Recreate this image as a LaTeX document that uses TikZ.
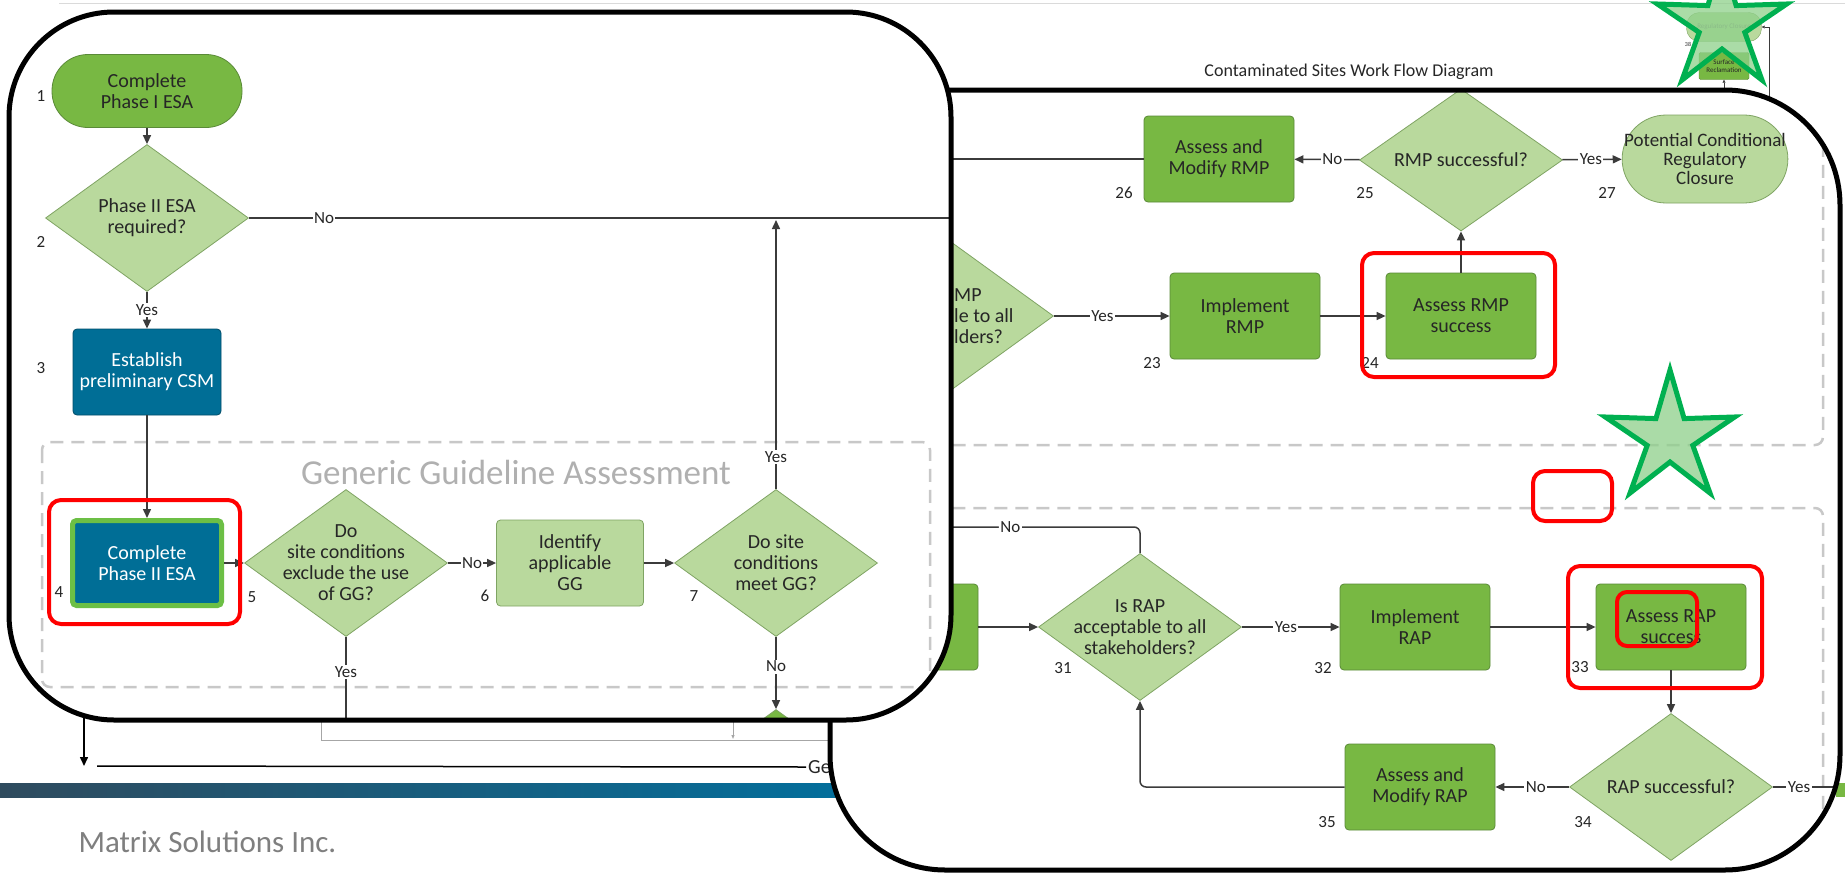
\documentclass[tikz,border=0pt]{standalone}
\usepackage{fontspec}
\setmainfont{Carlito}
\usepackage{tikz}
\usetikzlibrary{arrows.meta, positioning, shapes.geometric, calc}
\definecolor{cgreen}{HTML}{78B843}
\definecolor{cgreenedge}{HTML}{5A8A38}
\definecolor{clight}{HTML}{B9D99D}
\definecolor{clightedge}{HTML}{7FA463}
\definecolor{cblue}{HTML}{006E96}
\definecolor{cgreenrim}{HTML}{6CBF45}
\definecolor{cdash}{HTML}{C8C8C8}
\definecolor{cgga}{HTML}{B0B0B0}
\definecolor{cline}{HTML}{3B3B3B}
\definecolor{cthin}{HTML}{A6A6A6}
\definecolor{ctext}{HTML}{262626}
\definecolor{cred}{HTML}{FF0000}
\definecolor{cstar}{HTML}{00B050}
\definecolor{cstarfill}{HTML}{8ED08A}
\definecolor{cbardark}{HTML}{2F4B5E}
\definecolor{cbarblue}{HTML}{0071A0}
\definecolor{cgraytext}{HTML}{7F7F7F}
\definecolor{crule}{HTML}{DADADA}
\tikzset{
  boxtxt/.style={font=\fontsize{20}{21}\selectfont, align=center, text=ctext},
  lbltxt/.style={font=\fontsize{17}{17}\selectfont, text=ctext},
  numtxt/.style={lbltxt, inner sep=0pt},
  lbl/.style={lbltxt, fill=white, inner sep=1.5pt},
  gbox/.style={boxtxt, rectangle, draw=cgreenedge, fill=cgreen, line width=0.8pt,
               rounded corners=4pt, minimum width=150, minimum height=86, inner sep=2pt},
  lbox/.style={gbox, draw=clightedge, fill=clight},
  bbox/.style={gbox, draw=cblue!70!black, fill=cblue, text=white},
  gstad/.style={gbox, rounded corners=36pt, minimum width=190, minimum height=73},
  lstad/.style={lbox, rounded corners=44pt, minimum width=165, minimum height=88,
                font=\fontsize{19}{19}\selectfont},
  dec/.style={boxtxt, diamond, aspect=1.38, draw=clightedge, fill=clight, line width=0.8pt,
              minimum width=203, minimum height=147, inner sep=-10pt},
  ln/.style={draw=cline, line width=1.5pt},
  arr/.style={ln, -{Triangle[length=9pt, width=8pt]}},
  thinln/.style={draw=cthin, line width=1pt},
  dashbox/.style={draw=cdash, line width=2.5pt, dash pattern=on 13pt off 8pt, rounded corners=8pt},
  callout/.style={draw=black, line width=5pt},
  redmark/.style={draw=cred, line width=4pt, rounded corners=12pt},
  starmark/.style={draw=cstar, line width=5pt, fill=cstarfill, fill opacity=0.75, line join=miter},
  minibox/.style={rectangle, draw=cgreenedge, fill=cgreen, line width=0.4pt, rounded corners=1.5pt,
                  minimum width=50, minimum height=27, inner sep=0.5pt, align=center,
                  font=\fontsize{7}{7.5}\selectfont, text=ctext},
  ministad/.style={minibox, draw=clightedge, fill=clight, rounded corners=13pt,
                   minimum width=75, minimum height=29, text=cgraytext},
  minarr/.style={draw=cline, line width=0.6pt, -{Triangle[length=3pt, width=3pt]}},
}
\newcommand{\markstar}[2]{%
  \filldraw[starmark, shift={(#1,#2)}] (270:68)
    \foreach \k in {1,...,9}{ -- ({270+36*\k}:{mod(\k,2)==1 ? 24 : 68}) } -- cycle;}

\begin{document}
\begin{tikzpicture}[x=1pt, y=-1pt]
  \useasboundingbox (0,0) rectangle (1845,876);

  % slide under the call-outs
  \coordinate (ruleL) at (59,3);
  \coordinate (ruleR) at (1845,3);
  \draw[crule, line width=1pt] (ruleL) -- (ruleR);
  \node[font=\fontsize{18}{18}\selectfont, text=ctext] (title) at (1349,72)
    {Contaminated Sites Work Flow Diagram};

  \node[ministad] (rc) at (1724,27) {Regulatory Closure};
  \node[font=\fontsize{6}{6}\selectfont, text=ctext, inner sep=0pt] (n38) at (1688,44) {38};
  \node[minibox] (sr) at (1724,66) {Surface\\Reclamation};
  \coordinate (srin) at (1724,100);
  \coordinate (rcin) at (1769,100);
  \draw[minarr] (srin) -- (sr.south);
  \draw[minarr] (rcin) |- (rc.east);

  \shade[left color=cbardark, right color=cbarblue] (0,783) rectangle (900,797);
  \fill[cgreen] (1836,783) rectangle (1845,797);
  \node[anchor=west, font=\fontsize{31}{31}\selectfont, text=cgraytext] (firm) at (75,842)
    {Matrix Solutions Inc.};

  \coordinate (dropA) at (84,712);
  \coordinate (dropB) at (84,766);
  \draw[arr, draw=black] (dropA) -- (dropB);
  \node[anchor=west, inner sep=2pt, font=\fontsize{20}{20}\selectfont, text=ctext] (ge) at (806,767) {Ge};
  \coordinate (geL) at (97,766);
  \draw[ln, draw=black] (geL) -- (ge.west);
  \coordinate (thinA) at (321,712);
  \coordinate (thinB) at (900,740);
  \draw[thinln] (thinA) |- (thinB);
  \coordinate (tickA) at (733,722);
  \coordinate (tickB) at (733,739);
  \draw[thinln, -{Triangle[length=4pt, width=3pt]}] (tickA) -- (tickB);

  % right call-out
  \fill[white, rounded corners=115pt] (830,90) rectangle (1840,870);
  \begin{scope}
    \clip[rounded corners=115pt] (830,90) rectangle (1840,870);
    \draw[dashbox] (800,40) rectangle (1823,445);
    \draw[dashbox] (800,508) rectangle (1823,900);

    \node[gbox] (b26) at (1219,159) {Assess and\\Modify RMP};
    \node[dec, minimum height=142] (d25) at (1461,160) {RMP successful?};
    \node[lstad] (s27) at (1705,159) {Potential Conditional\\Regulatory\\Closure};
    \node[dec] (d22) at (952,316) {};
    \node[boxtxt, align=left, anchor=west, inner sep=1pt] (d22t) at (953,316) {MP\\le to all\\lders?};
    \node[gbox] (b23) at (1245,316) {Implement\\RMP};
    \node[gbox] (b24) at (1461,316) {Assess RMP\\success};

    \node[gbox] (b30) at (903,627) {};
    \node[dec] (d31) at (1140,627) {Is RAP\\acceptable to all\\stakeholders?};
    \node[gbox] (b32) at (1415,627) {Implement\\RAP};
    \node[gbox] (b33) at (1671,627) {Assess RAP\\success};
    \node[dec] (d34) at (1671,787) {RAP successful?};
    \node[gbox] (b35) at (1420,787) {Assess and\\Modify RAP};

    \node[numtxt] (n26) at (1124,193) {26};
    \node[numtxt] (n25) at (1365,193) {25};
    \node[numtxt] (n27) at (1607,193) {27};
    \node[numtxt] (n23) at (1152,363) {23};
    \node[numtxt] (n24) at (1370,363) {24};
    \node[numtxt] (n31) at (1063,668) {31};
    \node[numtxt] (n32) at (1323,668) {32};
    \node[numtxt] (n33) at (1580,667) {33};
    \node[numtxt] (n34) at (1583,822) {34};
    \node[numtxt] (n35) at (1327,822) {35};

    \coordinate (w26) at (900,159);
    \coordinate (no31) at (900,527);
    \coordinate (yes34) at (1860,787);
    \draw[ln] (b26.west) -- (w26);
    \draw[arr] (d25) -- node[lbl, pos=0.42]{No} (b26);
    \draw[arr] (d25) -- node[lbl, pos=0.48]{Yes} (s27);
    \draw[arr] (d22.east) -- node[lbl, pos=0.42]{Yes} (b23);
    \draw[arr] (b23) -- (b24);
    \draw[arr] (b24) -- (d25);
    \draw[arr] (b30) -- (d31);
    \draw[arr] (d31) -- node[lbl, pos=0.45]{Yes} (b32);
    \draw[arr] (b32) -- (b33);
    \draw[arr] (b33) -- (d34);
    \draw[arr] (d34) -- node[lbl, pos=0.45]{No} (b35);
    \draw[arr, rounded corners=6pt] (b35.west) -| (d31.south);
    \draw[ln, rounded corners=6pt] (d31.north) |- node[lbl, pos=0.77]{No} (no31);
    \draw[ln] (d34.east) -- node[lbl, pos=0.3]{Yes} (yes34);
  \end{scope}
  \draw[callout, rounded corners=115pt] (830,90) rectangle (1840,870);

  % left call-out
  \fill[white, rounded corners=105pt] (9,12) rectangle (951,720);
  \begin{scope}
    \clip[rounded corners=105pt] (9,12) rectangle (951,720);
    \draw[dashbox] (42,442) rectangle (930,687);
    \node[font=\fontsize{35}{35}\selectfont, text=cgga] (gga) at (516,472) {Generic Guideline Assessment};

    \node[gstad] (s1) at (147,91) {Complete\\Phase I ESA};
    \node[dec] (d2) at (147,218) {Phase II ESA\\required?};
    \node[bbox, minimum width=148] (b3) at (147,372) {Establish\\preliminary CSM};
    \node[bbox, draw=cgreenrim, line width=5pt, minimum width=149, minimum height=85] (b4) at (147,563)
      {Complete\\Phase II ESA};
    \node[dec] (d5) at (346,563) {Do\\site conditions\\exclude the use\\of GG?};
    \node[lbox, minimum width=147] (b6) at (570,563) {Identify\\applicable\\GG};
    \node[dec] (d7) at (776,563) {Do site\\conditions\\meet GG?};
    \node[dec, fill=cgreen] (d8) at (776,783) {};

    \node[numtxt] (n1) at (41,96) {1};
    \node[numtxt] (n2) at (41,242) {2};
    \node[numtxt] (n3) at (41,368) {3};
    \node[numtxt] (n4) at (59,592) {4};
    \node[numtxt] (n5) at (252,597) {5};
    \node[numtxt] (n6) at (485,596) {6};
    \node[numtxt] (n7) at (694,596) {7};

    \coordinate (noend) at (1000,218);
    \coordinate (yesup) at (776,220);
    \coordinate (yesdown) at (346,730);
    \draw[arr] (s1) -- (d2);
    \draw[arr] (d2) -- node[lbl]{Yes} (b3);
    \draw[arr] (b3) -- (b4);
    \draw[arr] (b4) -- (d5);
    \draw[arr] (d5) -- node[lbl]{No} (b6);
    \draw[arr] (b6) -- (d7);
    \draw[ln] (d2.east) -- node[lbl, pos=0.1]{No} (noend);
    \draw[arr] (d7.north) -- node[lbl, pos=0.12]{Yes} (yesup);
    \draw[arr] (d7.south) -- node[lbl, pos=0.41]{No} (d8.north);
    \draw[ln] (d5.south) -- node[lbl, pos=0.38]{Yes} (yesdown);
  \end{scope}
  \draw[callout, rounded corners=105pt] (9,12) rectangle (951,720);

  % marks on top
  \draw[redmark] (49,500) rectangle (240,624);
  \draw[redmark] (1362,253) rectangle (1555,377);
  \draw[redmark] (1533,471) rectangle (1612,521);
  \draw[redmark] (1568,566) rectangle (1762,688);
  \draw[redmark, rounded corners=10pt] (1617,592) rectangle (1697,646);
  \markstar{1722}{25}
  \markstar{1670}{438}
\end{tikzpicture}
\end{document}
